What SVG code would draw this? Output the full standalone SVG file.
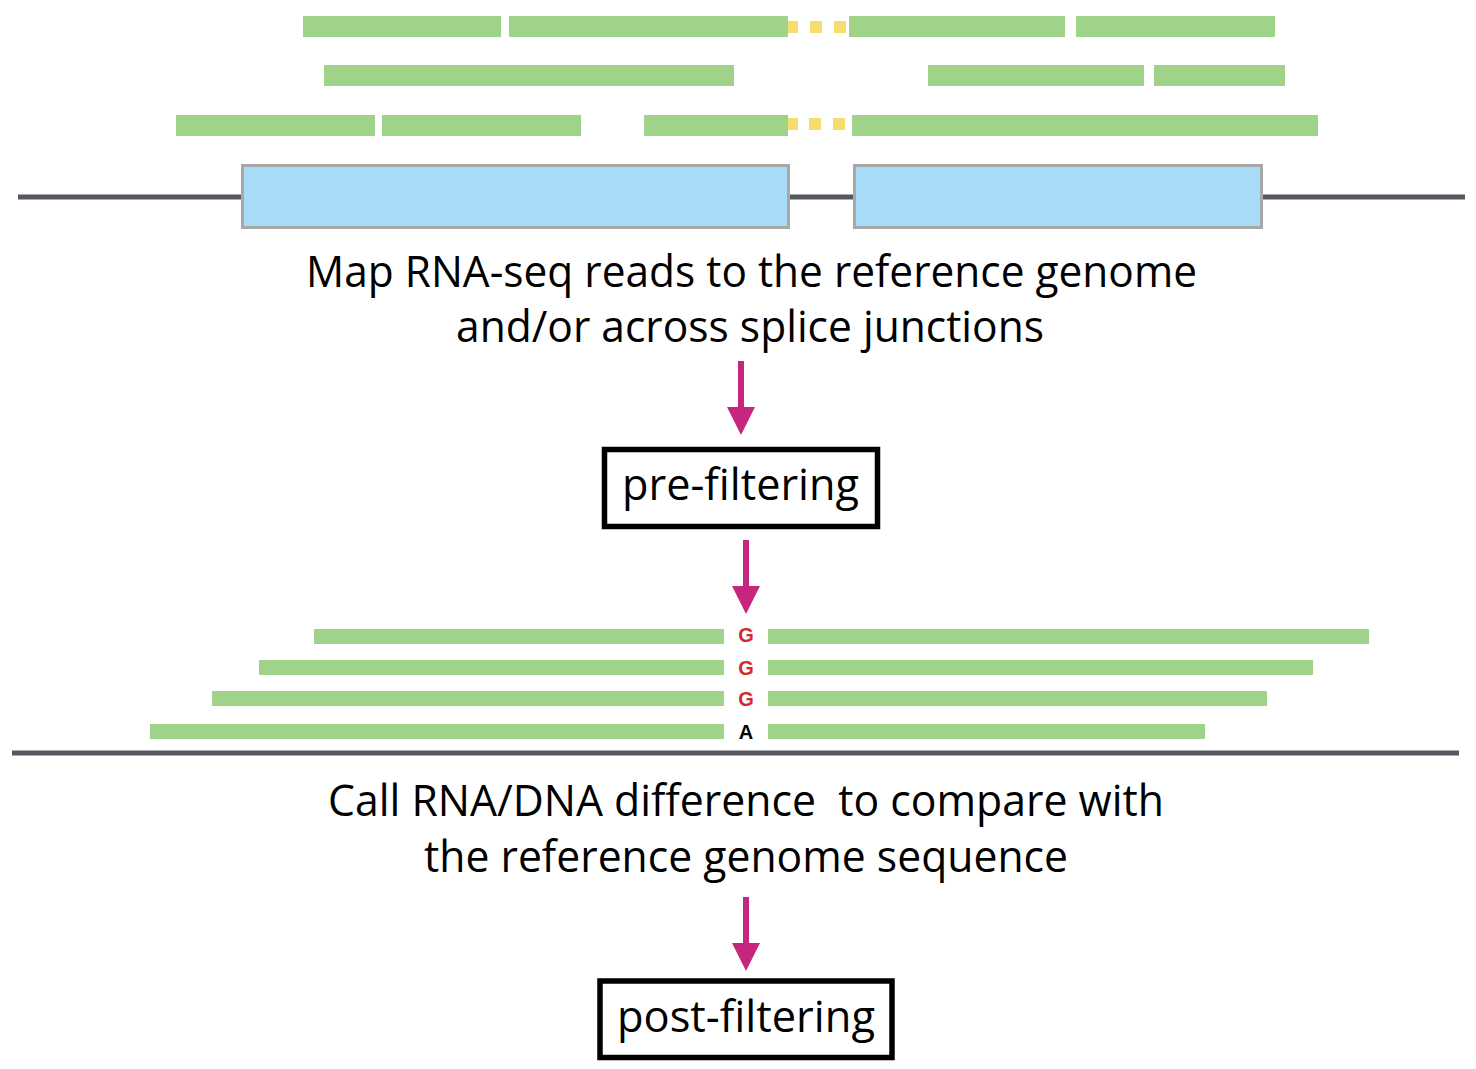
<svg xmlns="http://www.w3.org/2000/svg" xmlns:xlink="http://www.w3.org/1999/xlink" width="1476" height="1069" viewBox="0 0 1476 1069">
  <style>
    .read { fill: #9fd38a; }
    .gap { fill: #f6dc6a; }
    .exon { fill: #a8dbf7; stroke: #a7a9a9; stroke-width: 3; }
    .genome { stroke: #54595f; stroke-width: 5; fill: none; }
    .label { font-family: "Open Sans", "Noto Sans", sans-serif; font-size: 44px; fill: #000; }
    .box { fill: #fff; stroke: #000; stroke-width: 5.5; }
    .base { font-family: "Liberation Sans", Arial, sans-serif; font-weight: bold; font-size: 20px; text-anchor: middle; }
    .edit { fill: #d22b2b; }
    .ref { fill: #000; }
  </style>
  <defs>
    <!-- downward arrow: shaft + head, origin at top of shaft -->
    <g id="arrow">
      <rect x="-3" y="0" width="6" height="48" fill="#c6267e"/>
      <polygon points="-14,46 14,46 0,74" fill="#c6267e"/>
    </g>
  </defs>

  <rect width="1476" height="1069" fill="#fff"/>

  <!-- reads mapped to the reference, some spanning the intron -->
  <g id="mapped-reads">
    <rect class="read" x="303" y="16" width="198" height="21"/>
    <rect class="read" x="509" y="16" width="279" height="21"/>
    <rect class="gap" x="788" y="21" width="10" height="12"/>
    <rect class="gap" x="810" y="21" width="12" height="12"/>
    <rect class="gap" x="834" y="21" width="12" height="12"/>
    <rect class="read" x="849" y="16" width="216" height="21"/>
    <rect class="read" x="1076" y="16" width="199" height="21"/>

    <rect class="read" x="324" y="65" width="410" height="21"/>
    <rect class="read" x="928" y="65" width="216" height="21"/>
    <rect class="read" x="1154" y="65" width="131" height="21"/>

    <rect class="read" x="176" y="115" width="199" height="21"/>
    <rect class="read" x="382" y="115" width="199" height="21"/>
    <rect class="read" x="644" y="115" width="144" height="21"/>
    <rect class="gap" x="788" y="118" width="10" height="12"/>
    <rect class="gap" x="809" y="118" width="12" height="12"/>
    <rect class="gap" x="833" y="118" width="12" height="12"/>
    <rect class="read" x="852" y="115" width="466" height="21"/>
  </g>

  <!-- reference genome with two exons -->
  <g id="reference-genome">
    <line class="genome" x1="18" y1="197" x2="1465" y2="197"/>
    <rect class="exon" x="242.5" y="165.5" width="546" height="62"/>
    <rect class="exon" x="854.5" y="165.5" width="407" height="62"/>
  </g>

  <g id="map-step">
    <text class="label" x="306" y="287" textLength="891" lengthAdjust="spacingAndGlyphs">Map RNA-seq reads to the reference genome</text>
    <text class="label" x="456" y="342" textLength="588" lengthAdjust="spacingAndGlyphs">and/or across splice junctions</text>
  </g>

  <g id="pre-filtering">
    <rect class="box" x="604.5" y="449.5" width="273" height="77"/>
    <text class="label" x="622" y="500" textLength="237" lengthAdjust="spacingAndGlyphs">pre-filtering</text>
  </g>

  <!-- reads piled up over a candidate editing site -->
  <g id="variant-pileup">
    <rect class="read" x="314" y="629" width="410" height="15"/>
    <rect class="read" x="768" y="629" width="601" height="15"/>
    <rect class="read" x="259" y="660" width="465" height="15"/>
    <rect class="read" x="768" y="660" width="545" height="15"/>
    <rect class="read" x="212" y="691" width="512" height="15"/>
    <rect class="read" x="768" y="691" width="499" height="15"/>
    <rect class="read" x="150" y="724" width="574" height="15"/>
    <rect class="read" x="768" y="724" width="437" height="15"/>
    <text class="base edit" x="746" y="642">G</text>
    <text class="base edit" x="746" y="675">G</text>
    <text class="base edit" x="746" y="706">G</text>
    <text class="base ref" x="746" y="739">A</text>
    <line class="genome" x1="12" y1="753" x2="1459" y2="753"/>
  </g>

  <g id="call-step">
    <text class="label" x="328" y="816" textLength="836" lengthAdjust="spacingAndGlyphs" xml:space="preserve">Call RNA/DNA difference  to compare with</text>
    <text class="label" x="424" y="872" textLength="644" lengthAdjust="spacingAndGlyphs">the reference genome sequence</text>
  </g>

  <g id="post-filtering">
    <rect class="box" x="600" y="981" width="292" height="76.5"/>
    <text class="label" x="617" y="1032" textLength="258" lengthAdjust="spacingAndGlyphs">post-filtering</text>
  </g>

  <g id="connectors">
    <use xlink:href="#arrow" x="741" y="361"/>
    <use xlink:href="#arrow" x="746" y="540"/>
    <use xlink:href="#arrow" x="746" y="897"/>
  </g>
</svg>
